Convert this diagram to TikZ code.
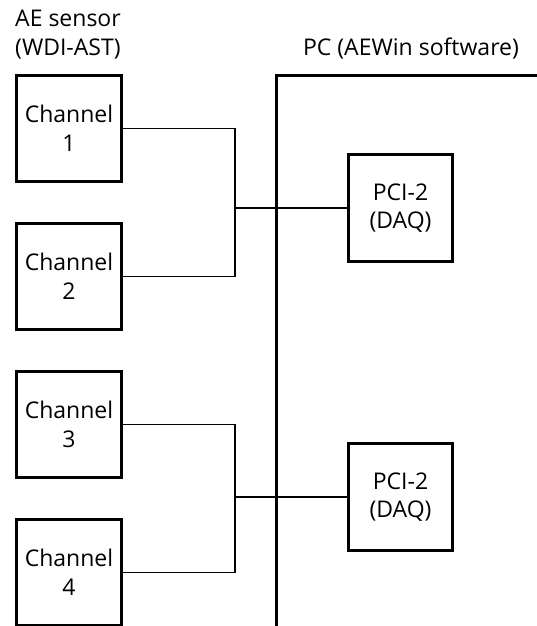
\documentclass[tikz,border=0pt]{standalone}
\usepackage{fontspec}
\setmainfont{Open Sans}
\usetikzlibrary{positioning}

\begin{document}
\begin{tikzpicture}[
  x=1pt, y=-1pt,
  font=\fontsize{23}{28.5}\selectfont,
  node distance=39pt,
  channel/.style={draw, line width=3pt, minimum width=105pt, minimum height=106pt, align=center, inner sep=0pt},
  daq/.style={draw, line width=3pt, minimum width=104pt, minimum height=107pt, align=center, inner sep=0pt},
  pcbox/.style={draw, line width=3pt, minimum width=265pt, minimum height=625pt, inner sep=0pt},
  title/.style={align=left, inner sep=0pt},
  wire/.style={line width=1.3pt}
]
\clip (0,0) rectangle (537,626);

% titles
\node[title, anchor=north west] (aelbl) at (15,10) {AE sensor\\(WDI-AST)};
\node[anchor=base, inner sep=0pt] (pclbl) at (411,56) {PC (AEWin software)};

% PC frame
\node[pcbox, anchor=north west] (pc) at (274.5,74) {};

% sensor channels
\node[channel] (ch1) at (69,128.5) {Channel\\1};
\node[channel, below=of ch1] (ch2) {Channel\\2};
\node[channel, below=of ch2] (ch3) {Channel\\3};
\node[channel, below=of ch3] (ch4) {Channel\\4};

% DAQ boards
\node[daq] (daq1) at (400.5,208) {PCI-2\\(DAQ)};
\node[daq] (daq2) at (400.5,497) {PCI-2\\(DAQ)};

% wiring
\coordinate (bus1) at (235,208);
\coordinate (bus2) at (235,497);
\draw[wire] (ch1) -| (bus1) |- (ch2);
\draw[wire] (bus1) -- (daq1);
\draw[wire] (ch3) -| (bus2) |- (ch4);
\draw[wire] (bus2) -- (daq2);

\end{tikzpicture}
\end{document}
